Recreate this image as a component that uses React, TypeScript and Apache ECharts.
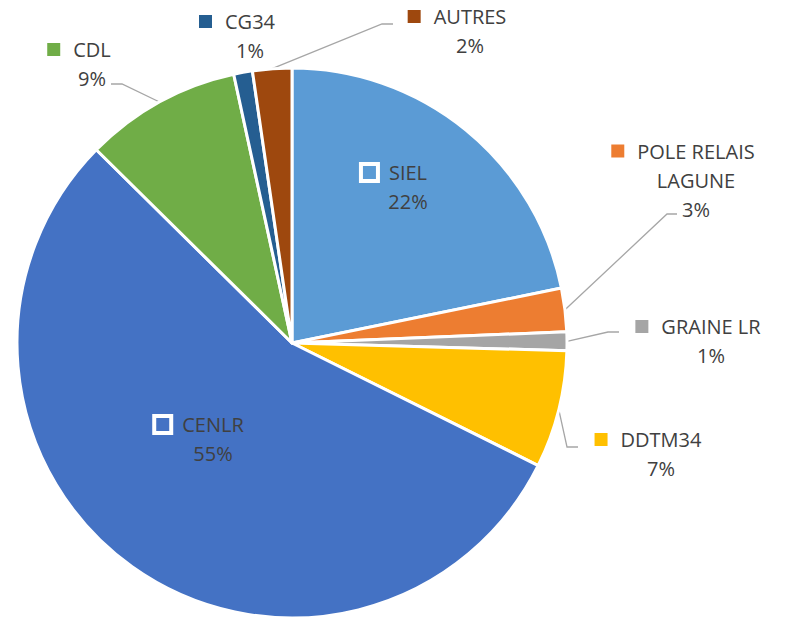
import React, { useEffect, useRef } from "react";
import * as echarts from "echarts";

// ---- data ----
const categories = [
  "SIEL",
  "POLE RELAIS LAGUNE",
  "GRAINE LR",
  "DDTM34",
  "CENLR",
  "CDL",
  "CG34",
  "AUTRES",
];
const shares = [21.8, 2.55, 1.1, 6.9, 55.05, 9.2, 1.1, 2.3];
const colors = [
  "#5B9BD5",
  "#ED7D31",
  "#A5A5A5",
  "#FFC000",
  "#4472C4",
  "#70AD47",
  "#255E91",
  "#9E480E",
];

// ---- label layout (positions of label blocks and leader bends) ----
const labelCenters: [number, number][] = [
  [408, 187],
  [696, 180],
  [711, 341],
  [661, 454],
  [213, 439],
  [92, 64],
  [250, 36],
  [470, 31],
];
const leaderBends: ([number, number][] | null)[] = [
  null,
  [[667, 214], [677, 214]],
  [[608, 332], [619, 332]],
  [[567, 447], [578, 447]],
  null,
  [[122, 84], [111, 84]],
  null,
  [[382, 24], [393, 24]],
];
const showLeader = [false, true, true, true, false, true, false, true];

function wrapName(name: string): string[] {
  if (name.length <= 12) return [name];
  const idx = name.lastIndexOf(" ");
  return [name.slice(0, idx), name.slice(idx + 1)];
}

export default function App() {
  const ref = useRef<HTMLDivElement>(null);
  useEffect(() => {
    if (!ref.current) return;
    const chart = echarts.init(ref.current, undefined, { renderer: "svg" });
    const rich: Record<string, any> = {
      g: { width: 13 },
      s: { width: 26 },
    };
    colors.forEach((c, i) => {
      rich["k" + i] = {
        width: 13,
        height: 13,
        backgroundColor: c,
        borderColor: "#ffffff",
        borderWidth: 4,
      };
    });
    const data = categories.map((name, i) => ({
      name,
      value: shares[i],
      itemStyle: { color: colors[i] },
      labelLine: { show: showLeader[i] },
    }));
    chart.setOption({
      animation: false,
      backgroundColor: "#ffffff",
      series: [
        {
          type: "pie",
          center: [292, 343],
          radius: 275,
          startAngle: 90,
          clockwise: true,
          avoidLabelOverlap: false,
          emphasis: { disabled: true },
          itemStyle: { borderColor: "#ffffff", borderWidth: 3 },
          label: {
            show: true,
            position: "outside",
            width: 220,
            overflow: "none",
            align: "center",
            fontFamily: "Open Sans",
            fontSize: 20,
            color: "#404040",
            lineHeight: 29,
            formatter: (p: any) => {
              const lines = wrapName(p.name);
              const pct = Math.round(p.percent) + "%";
              const first = `{k${p.dataIndex}|}{g|}${lines[0]}{s|}`;
              return [first, ...lines.slice(1), pct].join("\n");
            },
            rich,
          },
          labelLine: {
            show: true,
            length: 10,
            length2: 10,
            lineStyle: { color: "#A6A6A6", width: 1.3 },
          },
          labelLayout: (params: any) => {
            const i = params.dataIndex;
            const [x, y] = labelCenters[i];
            const res: any = { x, y, align: "center", verticalAlign: "middle" };
            const bends = leaderBends[i];
            if (bends && params.labelLinePoints) {
              res.labelLinePoints = [params.labelLinePoints[0], ...bends];
            }
            return res;
          },
          data,
        },
      ],
    });
    return () => chart.dispose();
  }, []);
  return (
    <div
      ref={ref}
      style={{ position: "fixed", left: 0, top: 0, width: 789, height: 618 }}
    />
  );
}
